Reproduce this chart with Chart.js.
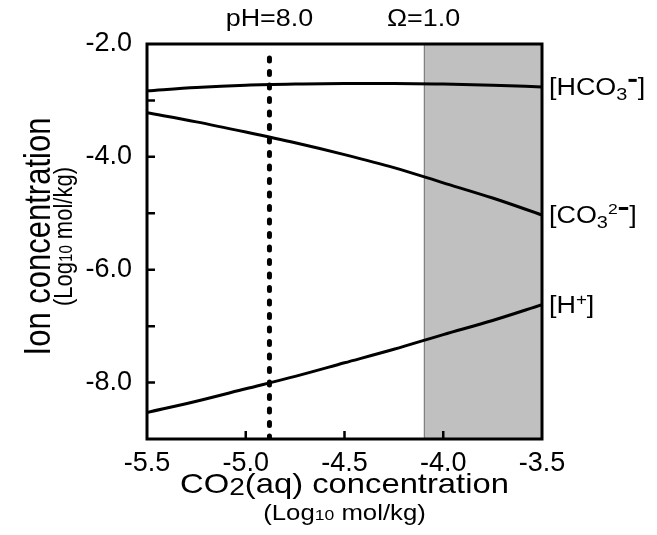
<!DOCTYPE html>
<html>
<head>
<meta charset="utf-8">
<script src="https://cdn.jsdelivr.net/npm/chart.js@4.4.1/dist/chart.umd.min.js"></script>
<style>
  body { margin: 0; background: #fff; }
  #wrap { width: 657px; height: 535px; }
</style>
</head>
<body>
<div id="wrap"><canvas id="ionChart" width="657" height="535"></canvas></div>
<script>
// log10 CO2(aq) vs log10 ion concentrations
var co2Log  = [-5.5, -5.25, -5.0, -4.75, -4.5, -4.25, -4.0, -3.75, -3.5];
var hco3Log = [-2.83, -2.77, -2.73, -2.71, -2.70, -2.70, -2.71, -2.73, -2.76];
var co3Log  = [-3.22, -3.38, -3.56, -3.75, -3.96, -4.19, -4.46, -4.73, -5.03];
var hLog    = [-8.53, -8.33, -8.11, -7.89, -7.65, -7.41, -7.15, -6.90, -6.62];

var pH8Co2 = -4.88;     // dotted line, pH = 8.0
var omega1Co2 = -4.1;   // start of shaded region, Omega = 1.0
var xRange = [-5.5, -3.5];
var yRange = [-9, -2];

var FONT = "'Liberation Sans', Arial, Helvetica, sans-serif";
var STRETCH = 1.17;

function toPoints(xs, ys) {
    var pts = [];
    for (var i = 0; i < xs.length; i++) pts.push({ x: xs[i], y: ys[i] });
    return pts;
}

// draw a run of text pieces (sub/superscripts, small bars) at a baseline
function drawParts(ctx, x, y, parts, align, rot) {
    ctx.save();
    ctx.translate(x, y);
    if (rot) {
        ctx.rotate(-Math.PI / 2);
        ctx.scale(1, STRETCH);
    } else {
        ctx.scale(STRETCH, 1);
    }
    ctx.fillStyle = '#000';
    ctx.textBaseline = 'alphabetic';
    ctx.textAlign = 'left';
    var total = 0;
    parts.forEach(function (p) {
        if (p.bar) { p.w2 = p.w + 2; }
        else { ctx.font = p.s + 'px ' + FONT; p.w2 = ctx.measureText(p.t).width; }
        total += p.w2;
    });
    var cx = align === 'center' ? -total / 2 : 0;
    parts.forEach(function (p) {
        if (p.bar) {
            ctx.fillRect(cx + 1, p.dy, p.w, p.h);
        } else {
            ctx.font = p.s + 'px ' + FONT;
            ctx.fillText(p.t, cx, p.dy || 0);
        }
        cx += p.w2;
    });
    ctx.restore();
}

var decorPlugin = {
    id: 'decor',
    beforeDatasetsDraw: function (chart) {
        var ctx = chart.ctx, a = chart.chartArea, xs = chart.scales.x;
        var x0 = xs.getPixelForValue(omega1Co2);
        ctx.save();
        ctx.fillStyle = '#c0c0c0';
        ctx.fillRect(x0, a.top, a.right - x0, a.bottom - a.top);
        ctx.strokeStyle = '#808080';
        ctx.lineWidth = 1;
        ctx.beginPath();
        ctx.moveTo(Math.round(x0) + 0.5, a.top);
        ctx.lineTo(Math.round(x0) + 0.5, a.bottom);
        ctx.stroke();
        ctx.restore();
    },
    afterDraw: function (chart) {
        var ctx = chart.ctx, a = chart.chartArea;
        var xs = chart.scales.x, ys = chart.scales.y;
        ctx.save();
        ctx.strokeStyle = '#000';
        ctx.lineWidth = 3;
        ctx.strokeRect(a.left, a.top, a.right - a.left, a.bottom - a.top);
        // inward tick marks
        ctx.lineWidth = 2.5;
        ctx.beginPath();
        ys.ticks.forEach(function (t) {
            if (t.value <= yRange[0] || t.value >= yRange[1]) return;
            var py = ys.getPixelForValue(t.value);
            ctx.moveTo(a.left, py);
            ctx.lineTo(a.left + 8, py);
        });
        xs.ticks.forEach(function (t) {
            if (t.value <= xRange[0] || t.value >= xRange[1]) return;
            var px = xs.getPixelForValue(t.value);
            ctx.moveTo(px, a.bottom);
            ctx.lineTo(px, a.bottom - 8);
        });
        ctx.stroke();
        ctx.restore();

        // top annotations
        drawParts(ctx, xs.getPixelForValue(pH8Co2), 26, [{ t: 'pH=8.0', s: 23 }], 'center');
        drawParts(ctx, xs.getPixelForValue(omega1Co2), 26, [{ t: '\u03A9=1.0', s: 23 }], 'center');

        // series labels at the right end of each curve
        var last = co2Log.length - 1;
        var lx = a.right + 7;
        drawParts(ctx, lx, ys.getPixelForValue(hco3Log[last]) + 8, [
            { t: '[HCO', s: 23 }, { t: '3', s: 17, dy: 5 },
            { bar: true, w: 7, h: 3, dy: -16 }, { t: ']', s: 23 }
        ], 'left');
        drawParts(ctx, lx, ys.getPixelForValue(co3Log[last]) + 8, [
            { t: '[CO', s: 23 }, { t: '3', s: 17, dy: 5 }, { t: '2', s: 15, dy: -9 },
            { bar: true, w: 8, h: 3, dy: -16 }, { t: ']', s: 23 }
        ], 'left');
        drawParts(ctx, lx, ys.getPixelForValue(hLog[last]) + 8, [
            { t: '[H', s: 23 }, { t: '+', s: 16, dy: -8 }, { t: ']', s: 23 }
        ], 'left');

        // axis titles
        var cxm = (a.left + a.right) / 2;
        drawParts(ctx, cxm, 493, [
            { t: 'CO', s: 28 }, { t: '2', s: 24, dy: 2 }, { t: '(aq) concentration', s: 28 }
        ], 'center');
        drawParts(ctx, cxm, 520, [
            { t: '(Log', s: 22 }, { t: '10', s: 15 }, { t: ' mol/kg)', s: 22 }
        ], 'center');
        var cym = (a.top + a.bottom) / 2 - 5;
        drawParts(ctx, 50, cym, [{ t: 'Ion concentration', s: 31 }], 'center', true);
        drawParts(ctx, 72, cym, [
            { t: '(Log', s: 22 }, { t: '10', s: 15 }, { t: ' mol/kg)', s: 22 }
        ], 'center', true);
    }
};

var lineStyle = { borderColor: '#000', borderWidth: 3, pointRadius: 0, tension: 0.4, cubicInterpolationMode: 'monotone', fill: false };

new Chart(document.getElementById('ionChart'), {
    type: 'line',
    data: {
        datasets: [
            Object.assign({ label: 'HCO3-', data: toPoints(co2Log, hco3Log) }, lineStyle),
            Object.assign({ label: 'CO3 2-', data: toPoints(co2Log, co3Log) }, lineStyle),
            Object.assign({ label: 'H+', data: toPoints(co2Log, hLog) }, lineStyle),
            {
                label: 'pH=8.0',
                data: [{ x: pH8Co2, y: yRange[0] }, { x: pH8Co2, y: yRange[1] - 0.08 }],
                borderColor: '#000', borderWidth: 5, borderDash: [3, 10.5], borderCapStyle: 'round',
                pointRadius: 0, fill: false
            }
        ]
    },
    options: {
        responsive: false,
        animation: false,
        layout: { padding: { top: 44, right: 115, left: 0, bottom: 0 } },
        plugins: { legend: { display: false }, tooltip: { enabled: false } },
        scales: {
            x: {
                type: 'linear', min: xRange[0], max: xRange[1],
                grid: { display: false, drawTicks: false },
                border: { display: false },
                ticks: {
                    stepSize: 0.5, padding: 8, color: '#000',
                    font: { family: FONT, size: 27 },
                    callback: function (v) { return v.toFixed(1); }
                },
                afterFit: function (s) { s.height = 96; }
            },
            y: {
                min: yRange[0], max: yRange[1],
                grid: { display: false, drawTicks: false },
                border: { display: false },
                ticks: {
                    stepSize: 1, padding: 15, color: '#000',
                    font: { family: FONT, size: 27 },
                    callback: function (v) { return v % 2 === 0 ? v.toFixed(1) : ''; }
                },
                afterFit: function (s) { s.width = 147; }
            }
        }
    },
    plugins: [decorPlugin]
});
</script>
</body>
</html>
